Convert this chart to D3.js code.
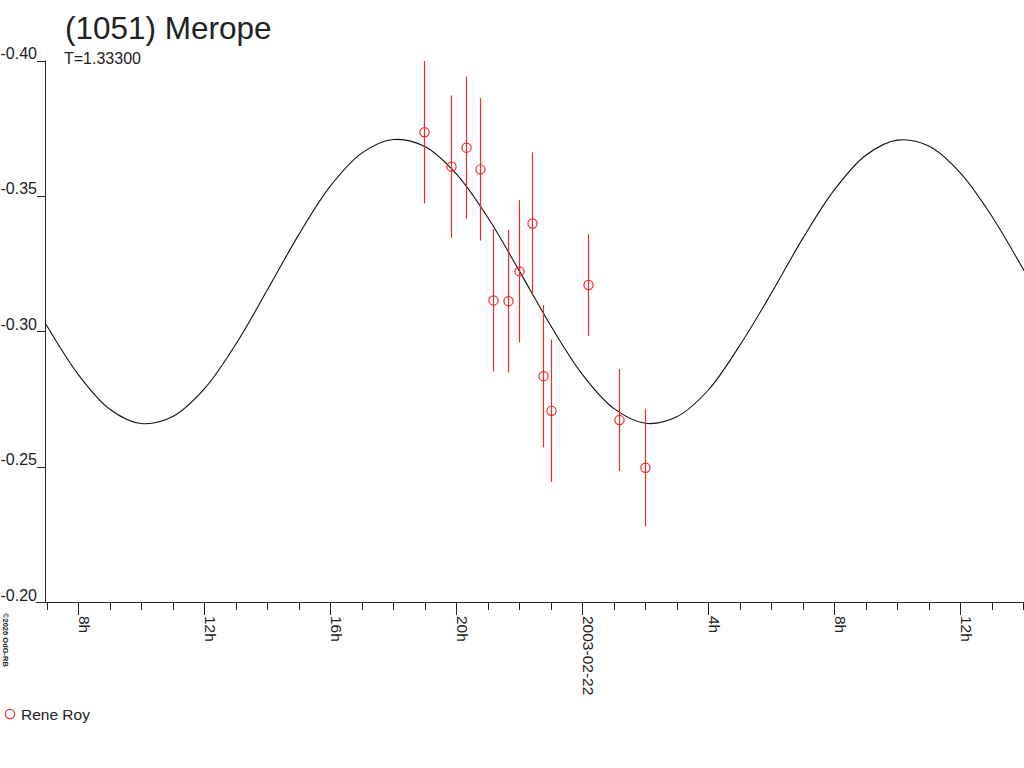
<!DOCTYPE html>
<html>
<head>
<meta charset="utf-8">
<script src="https://cdn.jsdelivr.net/npm/d3@7"></script>
<style>
  html, body { margin: 0; padding: 0; background: #fff; }
  svg { display: block; }
  text { font-family: "Liberation Sans", Arial, sans-serif; fill: #222; }
</style>
</head>
<body>
<script>
// ---------- data ----------
const title = "(1051) Merope";
const periodLabel = "T=1.33300";
const observer = "Rene Roy";
const copyright = "\u00a92026 OdG-RB";

// observations (UTC), relative magnitude, error
const obsTimes = ["2003-02-21T18:58", "2003-02-21T19:50", "2003-02-21T20:19", "2003-02-21T20:45",
                  "2003-02-21T21:10", "2003-02-21T21:39", "2003-02-21T21:59", "2003-02-21T22:25",
                  "2003-02-21T22:46", "2003-02-21T23:01", "2003-02-22T00:11", "2003-02-22T01:09",
                  "2003-02-22T02:00"];
const obsMag = [-0.3735, -0.3608, -0.3678, -0.3598, -0.3114, -0.3111, -0.3221, -0.3398,
                -0.2834, -0.2706, -0.3171, -0.2672, -0.2496];
const obsErr = [0.0263, 0.0263, 0.0263, 0.0263, 0.0263, 0.0263, 0.0263, 0.0263,
                0.0263, 0.0263, 0.0188, 0.0188, 0.0217];

// fitted light curve
const curveTimes = ["2003-02-21T06:00", "2003-02-21T07:00", "2003-02-21T08:00", "2003-02-21T09:00",
  "2003-02-21T10:00", "2003-02-21T11:00", "2003-02-21T12:00", "2003-02-21T13:00", "2003-02-21T14:00",
  "2003-02-21T15:00", "2003-02-21T16:00", "2003-02-21T17:00", "2003-02-21T18:00", "2003-02-21T19:00",
  "2003-02-21T20:00", "2003-02-21T21:00", "2003-02-21T22:00", "2003-02-21T23:00", "2003-02-22T00:00",
  "2003-02-22T01:00", "2003-02-22T02:00", "2003-02-22T03:00", "2003-02-22T04:00", "2003-02-22T05:00",
  "2003-02-22T06:00", "2003-02-22T07:00", "2003-02-22T08:00", "2003-02-22T09:00", "2003-02-22T10:00",
  "2003-02-22T11:00", "2003-02-22T12:00", "2003-02-22T13:00", "2003-02-22T14:00", "2003-02-22T15:00"];
const curveMag = [-0.3217, -0.3020, -0.2840, -0.2712, -0.2659, -0.2685, -0.2787, -0.2952, -0.3152,
  -0.3357, -0.3536, -0.3658, -0.3708, -0.3682, -0.3581, -0.3420, -0.3223, -0.3020, -0.2841,
  -0.2715, -0.2660, -0.2684, -0.2783, -0.2948, -0.3140, -0.3343, -0.3522, -0.3650, -0.3706,
  -0.3684, -0.3585, -0.3425, -0.3229, -0.3026];

const yTicks = [-0.40, -0.35, -0.30, -0.25, -0.20];
const xDomain = ["2003-02-21T06:56:36", "2003-02-22T14:01:20"];

// ---------- drawing ----------
const W = 1024, H = 768;
const parse = s => new Date(s + "Z");
const svg = d3.select("body").append("svg").attr("width", W).attr("height", H);

const x = d3.scaleUtc().domain(xDomain.map(parse)).range([45, 1024]);
const y = d3.scaleLinear().domain([-0.40, -0.20]).range([60.5, 602]);

svg.append("defs").append("clipPath").attr("id", "plot")
  .append("rect").attr("x", 45).attr("y", 0).attr("width", 979).attr("height", 602);

// title
svg.append("text").attr("x", 65).attr("y", 39).style("font-size", "31.5px").text(title);
svg.append("text").attr("x", 64).attr("y", 64).style("font-size", "16px").text(periodLabel);

// y axis
const yAxis = svg.append("g");
yAxis.append("line").attr("x1", 45.5).attr("x2", 45.5).attr("y1", y(-0.40)).attr("y2", 602)
  .attr("stroke", "#222").attr("stroke-width", 1);
yAxis.selectAll("line.t").data(yTicks).join("line").attr("class", "t")
  .attr("x1", 37).attr("x2", 45.5)
  .attr("y1", d => Math.round(y(d)) + 0.5).attr("y2", d => Math.round(y(d)) + 0.5)
  .attr("stroke", "#222");
yAxis.selectAll("text").data(yTicks).join("text")
  .attr("x", 37).attr("y", d => y(d) - 1.5)
  .attr("text-anchor", "end").style("font-size", "16px")
  .text(d => d.toFixed(2));

// x axis
const xAxis = svg.append("g");
xAxis.append("line").attr("x1", 36).attr("x2", 1024).attr("y1", 602.5).attr("y2", 602.5)
  .attr("stroke", "#222");
const hours = d3.utcHour.range(...x.domain());
xAxis.selectAll("line.t").data(hours).join("line").attr("class", "t")
  .attr("x1", d => Math.round(x(d)) + 0.5).attr("x2", d => Math.round(x(d)) + 0.5)
  .attr("y1", 602.5).attr("y2", d => d.getUTCHours() % 4 === 0 ? 615 : 610)
  .attr("stroke", "#222");
const majors = hours.filter(d => d.getUTCHours() % 4 === 0);
xAxis.selectAll("text").data(majors).join("text")
  .attr("transform", d => `translate(${x(d) + 0.5},616) rotate(90)`)
  .style("font-size", "15.5px")
  .text(d => d.getUTCHours() === 0 ? d3.utcFormat("%Y-%m-%d")(d) : d.getUTCHours() + "h");

// curve
const curvePts = curveTimes.map((t, i) => [parse(t), curveMag[i]]);
svg.append("path").attr("clip-path", "url(#plot)")
  .datum(curvePts)
  .attr("d", d3.line().x(d => x(d[0])).y(d => y(d[1])).curve(d3.curveCatmullRom))
  .attr("fill", "none").attr("stroke", "#111").attr("stroke-width", 1.1);

// observations
const obs = obsTimes.map((t, i) => ({ t: parse(t), m: obsMag[i], e: obsErr[i] }));
const red = "#ee2a2a";
svg.append("g").selectAll("line").data(obs).join("line")
  .attr("x1", d => Math.round(x(d.t)) + 0.5).attr("x2", d => Math.round(x(d.t)) + 0.5)
  .attr("y1", d => y(d.m - d.e)).attr("y2", d => y(d.m + d.e))
  .attr("stroke", red).attr("stroke-width", 1.2);
svg.append("g").selectAll("circle").data(obs).join("circle")
  .attr("cx", d => Math.round(x(d.t)) + 0.5).attr("cy", d => y(d.m)).attr("r", 4.6)
  .attr("fill", "none").attr("stroke", red).attr("stroke-width", 1.2);

// legend
svg.append("circle").attr("cx", 10).attr("cy", 714).attr("r", 4.6)
  .attr("fill", "none").attr("stroke", red).attr("stroke-width", 1.2);
svg.append("text").attr("x", 21).attr("y", 719.5).style("font-size", "15.5px").text(observer);

// copyright
svg.append("text").attr("transform", "translate(3,613) rotate(90)")
  .style("font-size", "7.5px").style("font-weight", "bold").text(copyright);
</script>
</body>
</html>
